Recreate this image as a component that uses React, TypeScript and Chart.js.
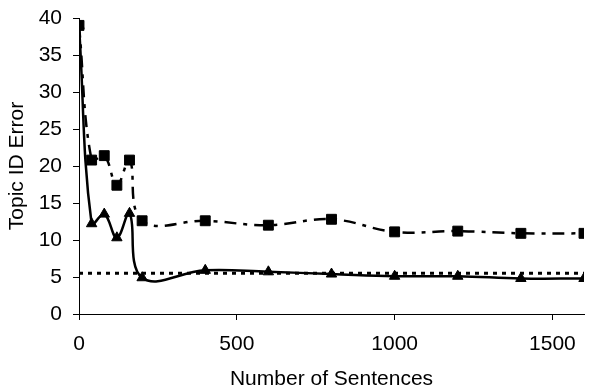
import React, { useEffect, useRef } from "react";
import { Chart, registerables } from "chart.js";

Chart.register(...registerables);

const sentences = [0, 40, 80, 120, 160, 200, 400, 600, 800, 1000, 1200, 1400, 1600];
const squareErrors = [39, 20.8, 21.4, 17.4, 20.8, 12.6, 12.6, 12.0, 12.8, 11.1, 11.2, 10.9, 10.9];
const triangleErrors = [39, 12.2, 13.5, 10.3, 13.6, 4.9, 5.9, 5.7, 5.4, 5.1, 5.1, 4.8, 4.8];
const baselineX = [0, 1600];
const baselineError = [5.5, 5.5];
const xTicks = [0, 500, 1000, 1500];
const yTicks = [0, 5, 10, 15, 20, 25, 30, 35, 40];

export default function App() {
  const ref = useRef<HTMLCanvasElement | null>(null);
  useEffect(() => {
    if (!ref.current) return;
    const font = { family: "'Liberation Sans', Arial, sans-serif", size: 21 };
    const chart = new Chart(ref.current, {
      type: "line",
      data: {
        datasets: [
          {
            label: "Baseline",
            data: baselineX.map((x, i) => ({ x, y: baselineError[i] })),
            borderColor: "#000",
            borderWidth: 3,
            borderDash: [4, 5],
            pointRadius: 0,
            tension: 0,
            fill: false,
          },
          {
            label: "Squares",
            data: sentences.map((x, i) => ({ x, y: squareErrors[i] })),
            borderColor: "#000",
            backgroundColor: "#000",
            borderWidth: 2.5,
            borderDash: [12, 7, 4, 7],
            pointStyle: "rect",
            pointRadius: 7,
            pointBorderWidth: 1,
            tension: 0.4,
            fill: false,
          },
          {
            label: "Triangles",
            data: sentences.map((x, i) => ({ x, y: triangleErrors[i] })),
            borderColor: "#000",
            backgroundColor: "#000",
            borderWidth: 2.5,
            pointStyle: "triangle",
            pointRadius: 6,
            pointBorderWidth: 1,
            tension: 0.4,
            fill: false,
          },
        ],
      },
      options: {
        animation: false,
        responsive: false,
        maintainAspectRatio: false,
        layout: { padding: { top: 18, right: 0, left: 0, bottom: 0 } },
        plugins: { legend: { display: false }, tooltip: { enabled: false } },
        scales: {
          x: {
            type: "linear",
            min: 0,
            max: 1600,
            afterBuildTicks: (s: any) => {
              s.ticks = xTicks.map((v) => ({ value: v }));
            },
            afterFit: (s: any) => {
              s.height = 78;
              s.paddingLeft = 0;
              s.paddingRight = 0;
            },
            border: { display: true, color: "#000", width: 1 },
            grid: { display: true, drawOnChartArea: false, drawTicks: true, tickLength: 6, color: "#000" },
            ticks: { color: "#000", font, padding: 12, maxRotation: 0, callback: (v: any) => String(v) },
            title: { display: true, text: "Number of Sentences", color: "#000", font, padding: { top: 0, bottom: 0 } },
          },
          y: {
            type: "linear",
            min: 0,
            max: 40,
            afterBuildTicks: (s: any) => {
              s.ticks = yTicks.map((v) => ({ value: v }));
            },
            afterFit: (s: any) => {
              s.width = 79;
              s.paddingTop = 0;
              s.paddingBottom = 0;
            },
            border: { display: true, color: "#000", width: 1 },
            grid: { display: true, drawOnChartArea: false, drawTicks: true, tickLength: 6, color: "#000" },
            ticks: { color: "#000", font, padding: 11, callback: (v: any) => String(v) },
            title: { display: true, text: "Topic ID Error", color: "#000", font, padding: { top: 5, bottom: 0 } },
          },
        },
      },
    });
    return () => chart.destroy();
  }, []);
  return (
    <div style={{ position: "fixed", left: 0, top: 0, width: 592, height: 392, background: "#fff" }}>
      <canvas ref={ref} width={592} height={392} style={{ width: 592, height: 392 }} />
    </div>
  );
}
